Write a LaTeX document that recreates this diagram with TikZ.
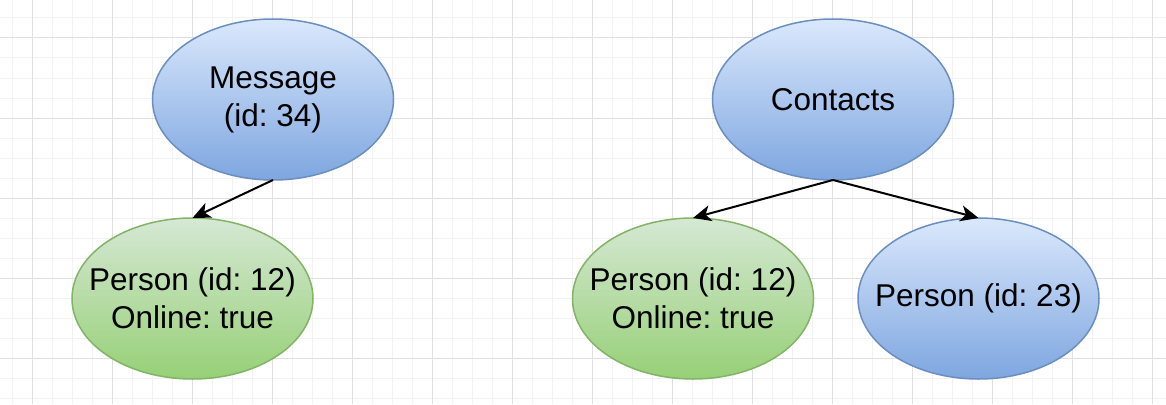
\documentclass[tikz,border=0pt]{standalone}
\usepackage{fontspec}
\setmainfont{Liberation Sans}
\frenchspacing
\usetikzlibrary{shapes.geometric,arrows.meta}
\definecolor{gridminor}{HTML}{F2F2F2}
\definecolor{gridmajor}{HTML}{E0E0E0}
\definecolor{blueA}{HTML}{DAE8FC}
\definecolor{blueB}{HTML}{7EA6E0}
\definecolor{blueS}{HTML}{6C8EBF}
\definecolor{greenA}{HTML}{D5E8D4}
\definecolor{greenB}{HTML}{97D077}
\definecolor{greenS}{HTML}{82B366}
\tikzset{
  oval/.style={ellipse, minimum width=241pt, minimum height=161pt, inner sep=0pt, outer sep=0pt,
    line width=1.5pt},
  ovaltext/.style={align=center, inner sep=0pt, font=\fontsize{31.5}{38}\selectfont},
  bluenode/.style={oval, draw=blueS, top color=blueA, bottom color=blueB},
  greennode/.style={oval, draw=greenS, top color=greenA, bottom color=greenB},
  link/.style={line width=2pt, -{Stealth[length=18pt,width=16pt,inset=5pt]}}
}
\begin{document}
\begin{tikzpicture}[x=1pt,y=-1pt]
\useasboundingbox (0,0) rectangle (1166,404);
\fill[white] (0,0) rectangle (1166,404);
% grid
\foreach \gx in {12,52,...,1166} \draw[gridminor, line width=1pt] (\gx,0) -- (\gx,404);
\foreach \gy in {18,58,...,404} \draw[gridminor, line width=1pt] (0,\gy) -- (1166,\gy);
\foreach \gx in {32,72,...,1166} \draw[gridminor, line width=1pt] (\gx,0) -- (\gx,404);
\foreach \gy in {38,78,...,404} \draw[gridminor, line width=1pt] (0,\gy) -- (1166,\gy);
\foreach \gx in {32,112,...,1166} \draw[gridmajor, line width=1pt] (\gx,0) -- (\gx,404);
\foreach \gy in {38,118,...,404} \draw[gridmajor, line width=1pt] (0,\gy) -- (1166,\gy);
% nodes
\node[bluenode, label={[ovaltext]center:Message\\(id: 34)}] (msg) at (273,99.5) {};
\node[greennode, label={[ovaltext]center:Person (id: 12)\\Online: true}] (p1) at (192.5,298.5) {};
\node[bluenode, label={[ovaltext]center:Contacts}] (con) at (833,99.5) {};
\node[greennode, label={[ovaltext]center:Person (id: 12)\\Online: true}] (p2) at (693,298.5) {};
\node[bluenode, label={[ovaltext]center:Person (id: 23)}] (p3) at (978.5,298.5) {};
% edges
\draw[link] (msg.south) -- (p1.north);
\draw[link] (con.south) -- (p2.north);
\draw[link] (con.south) -- (p3.north);
\end{tikzpicture}
\end{document}
